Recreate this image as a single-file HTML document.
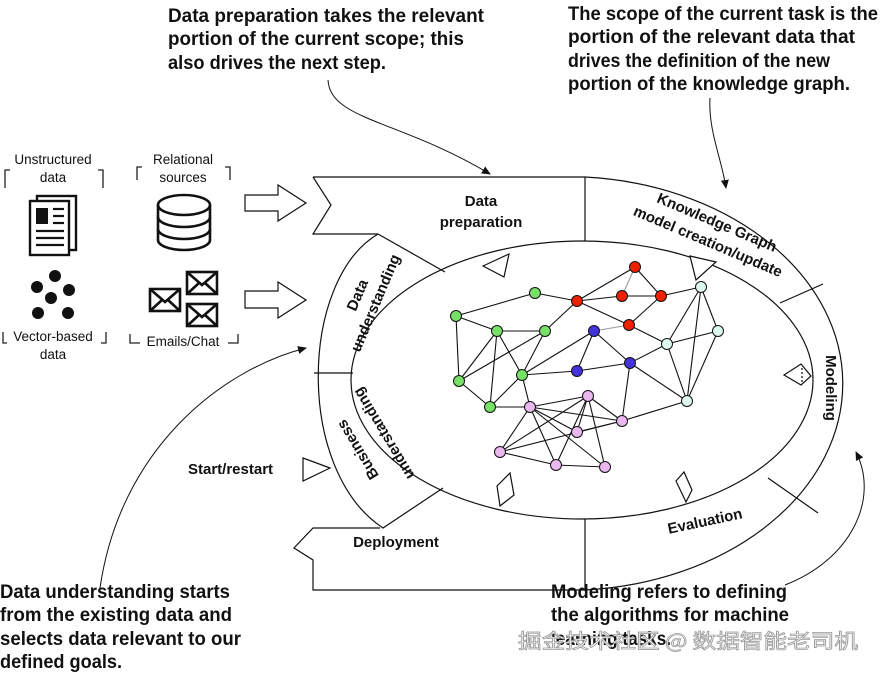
<!DOCTYPE html>
<html><head><meta charset="utf-8"><style>
html,body{margin:0;padding:0;background:#fff;}
svg{display:block;}
.ann{font-family:"Liberation Sans Narrow","Liberation Sans",sans-serif;font-weight:bold;font-size:19px;fill:#111;}
.lab{font-family:"Liberation Sans",sans-serif;font-weight:bold;font-size:15px;fill:#111;}
.sm{font-family:"Liberation Sans",sans-serif;font-size:13.5px;fill:#111;}
</style></head><body>
<svg width="880" height="675" viewBox="0 0 880 675" xmlns="http://www.w3.org/2000/svg">
<defs><marker id="ah" markerWidth="10" markerHeight="10" refX="8" refY="5" orient="auto" markerUnits="userSpaceOnUse"><path d="M0,1 L9,5 L0,9 z" fill="#111"/></marker></defs>

<text class="ann" x="168" y="22" textLength="316" lengthAdjust="spacingAndGlyphs">Data preparation takes the relevant</text>
<text class="ann" x="168" y="45" textLength="296" lengthAdjust="spacingAndGlyphs">portion of the current scope; this</text>
<text class="ann" x="168" y="69" textLength="218" lengthAdjust="spacingAndGlyphs">also drives the next step.</text>
<text class="ann" x="568" y="20" textLength="310" lengthAdjust="spacingAndGlyphs">The scope of the current task is the</text>
<text class="ann" x="568" y="43" textLength="287" lengthAdjust="spacingAndGlyphs">portion of the relevant data that</text>
<text class="ann" x="568" y="67" textLength="262" lengthAdjust="spacingAndGlyphs">drives the definition of the new</text>
<text class="ann" x="568" y="90" textLength="282" lengthAdjust="spacingAndGlyphs">portion of the knowledge graph.</text>
<text class="ann" x="0" y="598" textLength="230" lengthAdjust="spacingAndGlyphs">Data understanding starts</text>
<text class="ann" x="0" y="621" textLength="232" lengthAdjust="spacingAndGlyphs">from the existing data and</text>
<text class="ann" x="0" y="645" textLength="241" lengthAdjust="spacingAndGlyphs">selects data relevant to our</text>
<text class="ann" x="0" y="668" textLength="122" lengthAdjust="spacingAndGlyphs">defined goals.</text>
<text class="ann" x="551" y="598" textLength="236" lengthAdjust="spacingAndGlyphs">Modeling refers to defining</text>
<text class="ann" x="551" y="621" textLength="238" lengthAdjust="spacingAndGlyphs">the algorithms for machine</text>
<text class="ann" x="551" y="645" textLength="120" lengthAdjust="spacingAndGlyphs">learning tasks.</text>
<text x="518" y="648" font-family="'Noto Sans CJK SC',sans-serif" font-size="20" fill="#fff" stroke="#999" stroke-width="0.8" textLength="340" lengthAdjust="spacingAndGlyphs">掘金技术社区 @ 数据智能老司机</text>

<g fill="none" stroke="#111" stroke-width="1">
<path d="M328,80 C330,120 400,120 490,174" marker-end="url(#ah)"/>
<path d="M710,98 C708,130 722,160 726,188" marker-end="url(#ah)"/>
<path d="M100,588 C120,450 220,370 306,348" marker-end="url(#ah)"/>
<path d="M785,585 C850,560 880,500 856,452" marker-end="url(#ah)"/>
</g>

<g fill="none" stroke="#111" stroke-width="1.2">
<path d="M313,177 L585,177 A277,207 0 0 1 585,590 L313,590 L313,560 L294,548 L313,528 L380,528"/>
<path d="M313,177 L331,205 L313,234 L378,234"/>
<path d="M378,234 L445,272"/>
<path d="M378,234 C300,280 295,470 383,528 L443,488"/>
<ellipse cx="582" cy="380" rx="231" ry="139"/>
<line x1="585" y1="177" x2="585" y2="241"/>
<line x1="780" y1="303" x2="823" y2="284"/>
<line x1="768" y1="478" x2="818" y2="513"/>
<line x1="585" y1="519" x2="585" y2="590"/>
<line x1="314" y1="373" x2="353" y2="373"/>
<path d="M483,266 L509,254 L504,277 z" fill="#fff"/>
<path d="M690,256 L716,262 L696,280 z" fill="#fff"/>
<path d="M784,375 L801,364 L811,376 L801,385 z" fill="#fff"/>
<path d="M802,368 L802,383" stroke-dasharray="2,2"/>
<path d="M497,486 L510,473 L514,495 L500,506 z" fill="#fff"/>
<path d="M676,481 L684,472 L692,490 L686,502 z" fill="#fff"/>
<path d="M303,458 L330,468 L303,481 z" fill="#fff"/>
<path d="M245,195 L278,195 L278,185 L306,203 L278,221 L278,211 L245,211 z" fill="#fff"/>
<path d="M245,291 L278,291 L278,282 L306,300 L278,318 L278,308 L245,308 z" fill="#fff"/>
</g>

<text class="lab" x="481" y="206" text-anchor="middle">Data</text>
<text class="lab" x="481" y="227" text-anchor="middle">preparation</text>
<text class="lab" transform="translate(715,227) rotate(23)" text-anchor="middle">Knowledge Graph</text>
<text class="lab" transform="translate(706,246) rotate(23)" text-anchor="middle">model creation/update</text>
<text class="lab" transform="translate(826,388) rotate(90)" text-anchor="middle">Modeling</text>
<text class="lab" transform="translate(706,526) rotate(-12)" text-anchor="middle">Evaluation</text>
<text class="lab" x="396" y="547" text-anchor="middle">Deployment</text>
<text class="lab" transform="translate(362,297) rotate(-67)" text-anchor="middle">Data</text>
<text class="lab" transform="translate(380,305) rotate(-67)" text-anchor="middle">understanding</text>
<text class="lab" transform="translate(362,447) rotate(-121)" text-anchor="middle">Business</text>
<text class="lab" transform="translate(388,431) rotate(-121)" text-anchor="middle">understanding</text>
<text class="lab" x="188" y="474">Start/restart</text>

<g stroke="#111" stroke-width="1.1">
<line x1="535" y1="293" x2="456" y2="316"/><line x1="535" y1="293" x2="577" y2="301"/>
<line x1="456" y1="316" x2="497" y2="331"/><line x1="456" y1="316" x2="459" y2="381"/>
<line x1="497" y1="331" x2="545" y2="331"/><line x1="497" y1="331" x2="459" y2="381"/>
<line x1="497" y1="331" x2="490" y2="407"/><line x1="497" y1="331" x2="522" y2="375"/>
<line x1="545" y1="331" x2="459" y2="381"/><line x1="545" y1="331" x2="522" y2="375"/>
<line x1="545" y1="331" x2="577" y2="301"/><line x1="459" y1="381" x2="490" y2="407"/>
<line x1="490" y1="407" x2="530" y2="407"/><line x1="522" y1="375" x2="490" y2="407"/>
<line x1="522" y1="375" x2="530" y2="407"/><line x1="522" y1="375" x2="577" y2="371"/>
<line x1="522" y1="375" x2="594" y2="331"/>
<line x1="577" y1="301" x2="635" y2="267"/><line x1="577" y1="301" x2="622" y2="296"/>
<line x1="577" y1="301" x2="629" y2="325"/><line x1="635" y1="267" x2="661" y2="296"/>
<line x1="622" y1="296" x2="661" y2="296"/><line x1="661" y1="296" x2="629" y2="325"/>
<line x1="661" y1="296" x2="701" y2="287"/><line x1="629" y1="325" x2="667" y2="344"/>
<line x1="594" y1="331" x2="577" y2="371"/><line x1="594" y1="331" x2="630" y2="363"/>
<line x1="577" y1="371" x2="630" y2="363"/><line x1="630" y1="363" x2="667" y2="344"/>
<line x1="630" y1="363" x2="687" y2="401"/><line x1="630" y1="363" x2="622" y2="421"/>
<line x1="701" y1="287" x2="667" y2="344"/><line x1="701" y1="287" x2="718" y2="331"/>
<line x1="701" y1="287" x2="687" y2="401"/><line x1="667" y1="344" x2="718" y2="331"/>
<line x1="667" y1="344" x2="687" y2="401"/><line x1="718" y1="331" x2="687" y2="401"/>
<line x1="687" y1="401" x2="622" y2="421"/>
<line x1="530" y1="407" x2="588" y2="396"/><line x1="530" y1="407" x2="622" y2="421"/>
<line x1="530" y1="407" x2="577" y2="432"/><line x1="530" y1="407" x2="500" y2="452"/>
<line x1="530" y1="407" x2="556" y2="465"/><line x1="530" y1="407" x2="605" y2="467"/>
<line x1="588" y1="396" x2="500" y2="452"/><line x1="588" y1="396" x2="577" y2="432"/>
<line x1="588" y1="396" x2="556" y2="465"/><line x1="588" y1="396" x2="605" y2="467"/>
<line x1="588" y1="396" x2="622" y2="421"/><line x1="622" y1="421" x2="577" y2="432"/>
<line x1="622" y1="421" x2="500" y2="452"/><line x1="500" y1="452" x2="556" y2="465"/>
<line x1="556" y1="465" x2="605" y2="467"/>
</g>
<g stroke="#999" stroke-width="1.1"><line x1="635" y1="267" x2="622" y2="296"/><line x1="594" y1="331" x2="629" y2="325"/></g>
<g stroke="#111" stroke-width="1">
<g fill="#ee2200"><circle cx="635" cy="267" r="5.5"/><circle cx="577" cy="301" r="5.5"/><circle cx="622" cy="296" r="5.5"/><circle cx="661" cy="296" r="5.5"/><circle cx="629" cy="325" r="5.5"/></g>
<g fill="#77e066"><circle cx="535" cy="293" r="5.5"/><circle cx="456" cy="316" r="5.5"/><circle cx="497" cy="331" r="5.5"/><circle cx="545" cy="331" r="5.5"/><circle cx="459" cy="381" r="5.5"/><circle cx="522" cy="375" r="5.5"/><circle cx="490" cy="407" r="5.5"/></g>
<g fill="#4433dd"><circle cx="594" cy="331" r="5.5"/><circle cx="630" cy="363" r="5.5"/><circle cx="577" cy="371" r="5.5"/></g>
<g fill="#ddf8f0"><circle cx="701" cy="287" r="5.5"/><circle cx="718" cy="331" r="5.5"/><circle cx="667" cy="344" r="5.5"/><circle cx="687" cy="401" r="5.5"/></g>
<g fill="#e8b8ee"><circle cx="530" cy="407" r="5.5"/><circle cx="588" cy="396" r="5.5"/><circle cx="622" cy="421" r="5.5"/><circle cx="577" cy="432" r="5.5"/><circle cx="500" cy="452" r="5.5"/><circle cx="556" cy="465" r="5.5"/><circle cx="605" cy="467" r="5.5"/></g>
</g>

<text class="sm" x="53" y="164" text-anchor="middle">Unstructured</text>
<text class="sm" x="53" y="182" text-anchor="middle">data</text>
<text class="sm" x="183" y="164" text-anchor="middle">Relational</text>
<text class="sm" x="183" y="182" text-anchor="middle">sources</text>
<text class="sm" x="53" y="341" text-anchor="middle">Vector-based</text>
<text class="sm" x="53" y="359" text-anchor="middle">data</text>
<text class="sm" x="183" y="346" text-anchor="middle">Emails/Chat</text>
<g fill="none" stroke="#222" stroke-width="1.3">
<path d="M5,188 V170 H10"/><path d="M98,170 H103 V188"/>
<path d="M137,180 V167 H142"/><path d="M225,167 H230 V180"/>
<path d="M3,332 V343 H7"/><path d="M101,343 H106 V332"/>
<path d="M130,334 V343 H140"/><path d="M228,343 H238 V334"/>
</g>
<g stroke="#111" stroke-width="2.4" fill="#fff">
<rect x="37" y="196" width="39" height="54"/>
<rect x="30" y="201" width="39" height="54"/>
</g>
<rect x="36" y="208" width="12" height="16" fill="#111"/>
<g stroke="#111" stroke-width="2.2"><line x1="53" y1="209" x2="64" y2="209"/><line x1="53" y1="216" x2="64" y2="216"/><line x1="53" y1="223" x2="64" y2="223"/><line x1="36" y1="231" x2="64" y2="231"/><line x1="36" y1="238" x2="64" y2="238"/><line x1="36" y1="245" x2="64" y2="245"/></g>
<g stroke="#111" stroke-width="2.6" fill="#fff">
<path d="M158,205 V240 A26,10 0 0 0 210,240 V205"/>
<ellipse cx="184" cy="205" rx="26" ry="10"/>
<path d="M158,217 A26,10 0 0 0 210,217"/>
<path d="M158,229 A26,10 0 0 0 210,229"/>
</g>
<g fill="#111"><circle cx="55" cy="276" r="6"/><circle cx="37" cy="287" r="6"/><circle cx="69" cy="290" r="6"/><circle cx="51" cy="298" r="6"/><circle cx="38" cy="313" r="6"/><circle cx="68" cy="313" r="6"/></g>
<g stroke="#111" stroke-width="2.6" fill="#fff">
<rect x="150" y="289" width="30" height="22"/><path d="M150,289 L165,302 L180,289 M150,311 L162,300 M180,311 L168,300" fill="none"/>
<rect x="187" y="272" width="30" height="22"/><path d="M187,272 L202,285 L217,272 M187,294 L199,283 M217,294 L205,283" fill="none"/>
<rect x="187" y="304" width="30" height="22"/><path d="M187,304 L202,317 L217,304 M187,326 L199,315 M217,326 L205,315" fill="none"/>
</g>
</svg>
</body></html>
